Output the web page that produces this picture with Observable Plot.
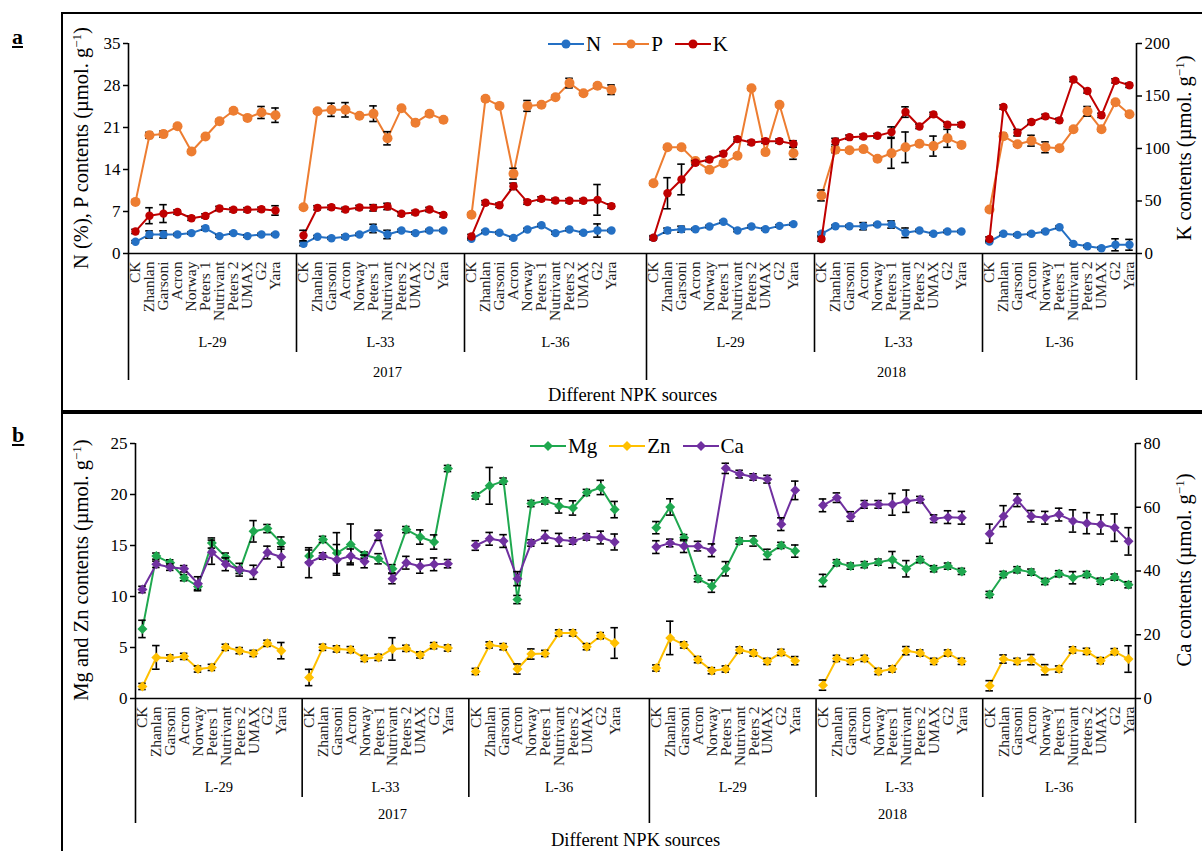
<!DOCTYPE html>
<html><head><meta charset="utf-8">
<script src="https://cdn.jsdelivr.net/npm/d3@7"></script>
<script src="https://cdn.jsdelivr.net/npm/@observablehq/plot@0.6"></script>
<style>
body{margin:0;background:#fff;font-family:'Liberation Serif','Times New Roman',serif;}
#root{position:relative;width:1202px;height:851px;overflow:hidden;background:#fff;}
.ytitle{position:absolute;white-space:nowrap;font-size:20.5px;transform:translate(-50%,-50%) rotate(-90deg);color:#000;}
.ytitle sup{font-size:13px;}
.legend{position:absolute;display:flex;align-items:center;font-size:21px;white-space:nowrap;}
.legend .it{display:flex;align-items:center;margin-right:12px;}
.legend span{margin-left:2px;}
.plab{position:absolute;font-weight:bold;font-size:22px;text-decoration:underline;}
.hline{position:absolute;background:#000;}
</style></head>
<body><div id="root"></div>
<script>
// ---------- data ----------
const categories = ["CK","Zhanlan","Garsoni","Acron","Norway","Peters 1","Nutrivant","Peters 2","UMAX","G2","Yara"];
const lineLabels = ["L-29","L-33","L-36","L-29","L-33","L-36"];
const yearLabels = ["2017","2018"];
const blankSlots = [1,1,2,1,1,0];

const N = [
 [1.95,3.17,3.17,3.17,3.4,4.2,2.9,3.4,2.9,3.17,3.17],
 [1.6,2.8,2.55,2.8,3.17,4.17,3.17,3.83,3.4,3.83,3.83],
 [2.45,3.67,3.45,2.6,4.0,4.7,3.4,4.0,3.45,3.83,3.83],
 [2.6,3.83,4.05,4.05,4.5,5.3,3.83,4.5,4.05,4.6,4.9],
 [3.28,4.55,4.55,4.55,4.83,4.83,3.45,3.83,3.28,3.67,3.67],
 [2.0,3.28,3.1,3.28,3.67,4.38,1.6,1.2,0.88,1.45,1.45]];
const N_err = [
 [0.2,0.6,0.6,0.2,0.2,0.3,0.2,0.2,0.2,0.2,0.2],
 [0.3,0.2,0.2,0.3,0.2,0.7,0.7,0.2,0.2,0.2,0.2],
 [0.2,0.2,0.2,0.2,0.2,0.2,0.2,0.2,0.2,1.1,0.2],
 [0.2,0.4,0.5,0.2,0.2,0.2,0.2,0.2,0.2,0.2,0.2],
 [0.3,0.2,0.2,0.6,0.2,0.6,0.8,0.2,0.2,0.2,0.2],
 [0.2,0.2,0.2,0.2,0.2,0.2,0.2,0.2,0.2,1.0,0.9]];
const P = [
 [8.6,19.7,19.9,21.2,17.0,19.5,22.05,23.8,22.6,23.5,23.05],
 [7.7,23.7,23.95,23.95,22.95,23.3,19.2,24.2,21.8,23.3,22.3],
 [6.45,25.8,24.6,13.3,24.6,24.8,26.05,28.4,26.7,27.95,27.3],
 [11.7,17.7,17.7,15.4,13.95,15.05,16.3,27.55,16.9,24.8,16.7],
 [9.67,17.3,17.2,17.4,15.8,16.7,17.7,18.3,17.9,19.2,18.1],
 [7.33,19.55,18.2,18.8,17.7,17.55,20.7,23.7,20.7,25.2,23.2]];
const P_err = [
 [0.3,0.5,0.5,0.3,0.3,0.3,0.3,0.3,0.3,1.0,1.2],
 [0.3,0.3,1.1,1.2,0.3,1.3,1.1,0.3,0.3,0.3,0.3],
 [0.3,0.3,0.3,0.9,0.9,0.3,0.3,0.8,0.3,0.3,0.8],
 [0.3,0.3,0.3,0.3,0.3,0.3,0.3,0.3,0.3,0.3,1.0],
 [0.9,0.5,0.3,0.3,0.3,2.5,2.55,0.3,1.67,1.5,0.3],
 [0.3,0.5,0.3,0.9,0.9,0.3,0.3,0.8,0.3,0.3,0.3]];
const K = [
 [21,36,38,39.5,33.6,35.8,42.9,41.6,41.6,42.1,41],
 [17.1,43.5,44,41.9,43.8,43.5,44.8,37.8,39,41.9,36.8],
 [16.2,48.3,46,64,48.9,52,50.5,50.2,50.2,51.1,45.1],
 [15,57.4,70.5,86.4,89.5,95,108.9,105.7,107,107,104.4],
 [13.8,106.7,110.8,111.5,112.2,115.6,134.7,121,132.5,122.7,122.7],
 [13.8,139.5,115,125.2,130.6,126.8,165.7,154.8,131.6,164.4,160.2]];
const K_err = [
 [2,7.6,8.5,2,2,2,2,2,2,2,4.5],
 [5,2,2,2,2,3,3,2,2,2,2],
 [2,2,2,3,2,2,2,2,2,14.6,2],
 [2,14.8,14.6,2,2,2,2,2,2,2,3],
 [2,3,2,2,2,5,5,2,2,2,2],
 [2,2,3,2,2,2,2,2,2,2,2]];
const Mg = [
 [6.82,13.96,13.3,11.84,10.98,15.24,13.86,12.56,16.39,16.66,15.24],
 [13.96,15.6,14.26,15.11,14.06,13.7,12.72,16.56,15.83,15.34,22.55],
 [19.86,20.85,21.31,9.7,19.11,19.37,18.88,18.68,20.2,20.69,18.52],
 [16.75,18.78,15.77,11.74,11.01,12.72,15.44,15.44,14.13,15.01,14.45],
 [11.57,13.31,12.98,13.12,13.37,13.61,12.72,13.61,12.72,12.98,12.46],
 [10.2,12.16,12.62,12.39,11.47,12.23,11.84,12.16,11.5,11.9,11.15]];
const Mg_err = [
 [0.85,0.3,0.3,0.3,0.3,0.5,0.4,0.3,1.05,0.4,0.6],
 [0.6,0.3,2.0,2.0,0.3,0.5,0.4,0.3,0.7,0.7,0.3],
 [0.3,1.8,0.3,0.4,0.3,0.3,0.7,0.7,0.3,0.7,0.8],
 [0.6,0.8,0.3,0.3,0.6,0.7,0.3,0.5,0.5,0.3,0.6],
 [0.6,0.3,0.3,0.3,0.3,0.8,0.8,0.3,0.3,0.3,0.3],
 [0.3,0.3,0.3,0.3,0.3,0.3,0.6,0.3,0.3,0.3,0.3]];
const Zn = [
 [1.18,4.03,3.97,4.13,2.89,3.05,5.02,4.69,4.42,5.41,4.69],
 [2.06,5.02,4.86,4.79,3.93,4.03,4.86,4.92,4.27,5.18,4.95],
 [2.65,5.25,5.08,2.89,4.36,4.42,6.43,6.43,5.08,6.16,5.44],
 [2.99,5.94,5.25,3.81,2.72,2.89,4.76,4.46,3.64,4.52,3.71],
 [1.31,3.93,3.64,3.93,2.65,2.89,4.69,4.46,3.64,4.46,3.64],
 [1.25,3.87,3.64,3.81,2.82,2.89,4.76,4.62,3.71,4.59,3.87]];
const Zn_err = [
 [0.3,1.16,0.3,0.3,0.3,0.3,0.3,0.3,0.3,0.3,0.8],
 [0.8,0.3,0.3,0.3,0.3,0.3,1.1,0.3,0.3,0.3,0.3],
 [0.3,0.3,0.3,0.5,0.5,0.3,0.3,0.3,0.3,0.3,1.5],
 [0.3,1.64,0.3,0.3,0.3,0.3,0.3,0.3,0.3,0.3,0.4],
 [0.5,0.3,0.3,0.3,0.3,0.3,0.4,0.3,0.3,0.3,0.3],
 [0.5,0.4,0.3,0.5,0.5,0.3,0.3,0.3,0.3,0.3,1.3]];
const Ca = [
 [34.2,42.1,41.2,40.7,36,45.9,42.1,40.4,39.6,45.8,44.4],
 [42.6,44.7,43.5,44.7,43,51.2,37.6,42.6,41.5,42.1,42.3],
 [48,50.1,49.4,37.6,48.8,50.7,49.8,49.4,50.7,50.5,49.1],
 [47.5,48.8,47.8,47.8,46.5,72.2,70.4,69.5,68.8,54.7,65.3],
 [60.6,63,57.1,60.9,60.9,60.9,61.9,62.4,56.4,56.9,56.7],
 [51.7,57.2,62.2,57.2,56.7,57.7,55.7,55,54.6,53.6,49.3]];
const Ca_err = [
 [1,1,1,1,2.2,3.8,2,2,2.2,2,3.2],
 [4.7,1,4.8,2.2,2,1.6,1.6,2,2.2,2,1.3],
 [1.5,2,2,2.2,1,2,2,1,1,2,2.5],
 [2,1.2,2,1.5,2,1.6,1.2,1,1.2,2,2.9],
 [2,1.5,1.5,1.2,1.2,3.4,3.5,1,1.2,2,2],
 [3,3.3,2,1.8,2,2,3.5,3.3,3,4.3,4.3]];

const leftTicksA = [0,7,14,21,28,35];
const rightTicksA = [0,50,100,150,200];
const leftTicksB = [0,5,10,15,20,25];
const rightTicksB = [0,20,40,60,80];

// ---------- structure ----------
const starts = []; let acc = 0;
blankSlots.forEach(b => { starts.push(acc); acc += categories.length + b; });
const total = acc;
const rows = [];
lineLabels.forEach((lab, g) => categories.forEach((c, i) => rows.push({g, i, x: starts[g] + i + 0.5, cat: c})));
const groupRows = lineLabels.map((lab, g) => ({x: (starts[g] + (g < 5 ? starts[g+1] : total)) / 2, t: lab}));
const yearStart = [0, starts[3]], yearEnd = [starts[3], total];
const yearRows = yearLabels.map((y, k) => ({x: (yearStart[k] + yearEnd[k]) / 2, t: y}));

const root = document.getElementById("root");
const FONT = "'Liberation Serif','Times New Roman',serif";

function panel(o) {
  const innerH = o.height - o.marginTop - o.marginBottom;
  const u = o.yMax / innerH;
  const toLeft = v => v * o.yMax / o.rightMax;
  const marks = [
    Plot.axisY({ticks: o.leftTicks, tickSize: 5, tickPadding: 3, label: null, fontSize: 17, strokeWidth: 1.5}),
    Plot.axisY({anchor: "right", ticks: o.rightTicks.map(toLeft), tickFormat: v => String(Math.round(v * o.rightMax / o.yMax)), tickSize: 5, tickPadding: 3, label: null, fontSize: 17, strokeWidth: 1.5}),
    Plot.ruleY([0], {x1: 0, x2: total, stroke: "#000", strokeWidth: 1.6}),
    Plot.ruleX([0, total], {y1: o.yMax, y2: -o.below.yearSep * u, stroke: "#000", strokeWidth: 1.6}),
    Plot.ruleX([starts[3]], {y1: 0, y2: -o.below.yearSep * u, stroke: "#000", strokeWidth: 1.6}),
    Plot.ruleX([starts[1], starts[2], starts[4], starts[5]], {y1: 0, y2: -o.below.lineSep * u, stroke: "#000", strokeWidth: 1.6}),
    Plot.text(rows, {x: "x", y: 0, text: "cat", rotate: -90, textAnchor: "end", dy: o.below.cat, fontSize: 15.5, fill: "#222"}),
    Plot.text(groupRows, {x: "x", y: 0, text: "t", dy: o.below.line, fontSize: 14.5}),
    Plot.text(yearRows, {x: "x", y: 0, text: "t", dy: o.below.year, fontSize: 14.5}),
    Plot.text([{x: total / 2, t: "Different NPK sources"}], {x: "x", y: 0, text: "t", dy: o.below.title, fontSize: 18.5})
  ];
  o.series.forEach(s => {
    const f = s.right ? toLeft : (v => v);
    const val = d => f(s.values[d.g][d.i]);
    const err = d => f(s.err[d.g][d.i]);
    marks.push(Plot.line(rows, {x: "x", y: val, z: "g", stroke: s.color, strokeWidth: 2}));
    marks.push(Plot.ruleX(rows, {x: "x", y1: d => val(d) - err(d), y2: d => val(d) + err(d), stroke: "#000", strokeWidth: 1.6}));
    marks.push(Plot.ruleY(rows, {y: d => val(d) + err(d), x1: d => d.x - 0.27, x2: d => d.x + 0.27, stroke: "#000", strokeWidth: 1.6}));
    marks.push(Plot.ruleY(rows, {y: d => val(d) - err(d), x1: d => d.x - 0.27, x2: d => d.x + 0.27, stroke: "#000", strokeWidth: 1.6}));
    marks.push(Plot.dot(rows, {x: "x", y: val, r: s.r, fill: s.color, stroke: "none", symbol: s.symbol}));
  });
  const svg = Plot.plot({
    width: 1202, height: o.height,
    marginLeft: o.marginLeft, marginRight: o.marginRight, marginTop: o.marginTop, marginBottom: o.marginBottom,
    x: {domain: [0, total], axis: null},
    y: {domain: [0, o.yMax], axis: null},
    style: {fontFamily: FONT, fontSize: 17, color: "#000", background: "transparent", overflow: "visible"},
    marks
  });
  svg.style.position = "absolute";
  svg.style.left = "0px";
  svg.style.top = o.top + "px";
  root.appendChild(svg);
}

panel({
  top: 0, height: 412, marginTop: 43, marginBottom: 159, marginLeft: 128, marginRight: 66,
  yMax: 35, rightMax: 200, leftTicks: leftTicksA, rightTicks: rightTicksA,
  below: {cat: 8, line: 89, lineSep: 99, year: 119, yearSep: 127, title: 142},
  series: [
    {values: N, err: N_err, color: "#2470C4", r: 4.2, symbol: "circle"},
    {values: P, err: P_err, color: "#ED7D31", r: 5, symbol: "circle"},
    {values: K, err: K_err, color: "#C00000", r: 4.2, symbol: "circle", right: true}
  ]
});
panel({
  top: 412, height: 439, marginTop: 31, marginBottom: 153, marginLeft: 135, marginRight: 67,
  yMax: 25, rightMax: 80, leftTicks: leftTicksB, rightTicks: rightTicksB,
  below: {cat: 8, line: 89, lineSep: 99, year: 116, yearSep: 125, title: 142},
  series: [
    {values: Mg, err: Mg_err, color: "#1FA84F", r: 4.5, symbol: "diamond2"},
    {values: Zn, err: Zn_err, color: "#FFC000", r: 4.5, symbol: "diamond2"},
    {values: Ca, err: Ca_err, color: "#7030A0", r: 4.5, symbol: "diamond2", right: true}
  ]
});

// ---------- frame, titles, legends ----------
function add(html) { root.insertAdjacentHTML("beforeend", html); }
add('<div class="hline" style="left:61px;top:12px;width:1141px;height:2px"></div>');
add('<div class="hline" style="left:61px;top:12px;width:2px;height:839px"></div>');
add('<div class="hline" style="left:61px;top:410px;width:1141px;height:4px"></div>');
add('<div class="plab" style="left:12px;top:24px">a</div>');
add('<div class="plab" style="left:12px;top:422px">b</div>');
add('<div class="ytitle" style="left:81px;top:148px">N (%), P contents (µmol. g<sup>−1</sup>)</div>');
add('<div class="ytitle" style="left:1184px;top:148px">K contents (µmol. g<sup>−1</sup>)</div>');
add('<div class="ytitle" style="left:81px;top:570px">Mg and Zn contents (µmol. g<sup>−1</sup>)</div>');
add('<div class="ytitle" style="left:1184px;top:570px">Ca contents (µmol. g<sup>−1</sup>)</div>');

function legend(items, left, cy, shape) {
  const parts = items.map(([name, color]) => {
    const m = shape === "circle"
      ? `<circle cx="18" cy="8" r="4.5" fill="${color}"/>`
      : `<path d="M18 3 L23 8 L18 13 L13 8 Z" fill="${color}"/>`;
    return `<div class="it"><svg width="36" height="16"><line x1="0" y1="8" x2="36" y2="8" stroke="${color}" stroke-width="2"/>${m}</svg><span>${name}</span></div>`;
  }).join("");
  add(`<div class="legend" style="left:${left}px;top:${cy - 13}px;height:26px">${parts}</div>`);
}
legend([["N", "#2470C4"], ["P", "#ED7D31"], ["K", "#C00000"]], 548, 44, "circle");
legend([["Mg", "#1FA84F"], ["Zn", "#FFC000"], ["Ca", "#7030A0"]], 530, 446, "diamond");
</script></body></html>
